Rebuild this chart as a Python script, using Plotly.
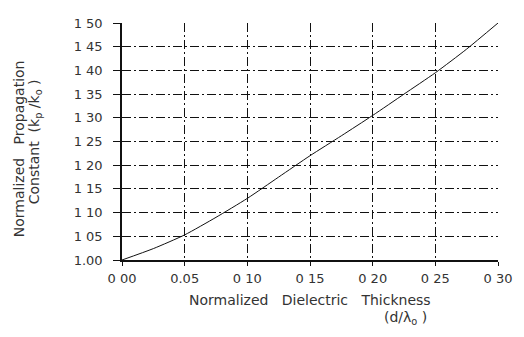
import plotly.graph_objects as go

# Data
thickness = [0.000, 0.025, 0.050, 0.075, 0.100, 0.125, 0.150, 0.175,
             0.200, 0.225, 0.250, 0.275, 0.300]
prop_const = [1.000, 1.024, 1.053, 1.090, 1.130, 1.175, 1.220, 1.262,
              1.305, 1.350, 1.395, 1.445, 1.500]

x_tick_vals = [0.00, 0.05, 0.10, 0.15, 0.20, 0.25, 0.30]
x_tick_text = ["0 00", "0.05", "0 10", "0 15", "0 20", "0 25", "0 30"]
y_tick_vals = [1.00, 1.05, 1.10, 1.15, 1.20, 1.25, 1.30, 1.35, 1.40, 1.45, 1.50]
y_tick_text = ["1.00", "1 05", "1 10", "1 15", "1 20", "1 25", "1 30",
               "1 35", "1 40", "1 45", "1 50"]

FONT = "DejaVu Sans"
INK = "#333333"
LINE = "#111111"
GRID_DASH = "9px,3px,2px,3px"

fig = go.Figure()
fig.add_trace(go.Scatter(x=thickness, y=prop_const, mode="lines",
                         line=dict(color=LINE, width=1, shape="spline",
                                   smoothing=0.6),
                         showlegend=False, hoverinfo="skip"))

axis_common = dict(showgrid=True, gridcolor=LINE, gridwidth=1,
                   griddash=GRID_DASH, showline=True, linecolor=LINE,
                   linewidth=1.5, zeroline=False, ticks="outside",
                   tickcolor=LINE,
                   tickfont=dict(size=13, family=FONT, color=INK))

# The page body adds an 8px offset, so the figure is sized to fit the window.
fig.update_layout(
    width=516, height=329,
    margin=dict(l=114, r=26, t=8, b=77),
    paper_bgcolor="white", plot_bgcolor="white",
    font=dict(family=FONT, size=13, color=INK),
    xaxis=dict(range=[0, 0.30], tickvals=x_tick_vals, ticktext=x_tick_text,
               ticklen=4, ticklabelstandoff=2, **axis_common),
    yaxis=dict(range=[1.00, 1.50], tickvals=y_tick_vals, ticktext=y_tick_text,
               ticklen=7, ticklabelstandoff=8, **axis_common),
)

title_font = dict(size=14, family=FONT, color=INK)

# Axis titles as annotations
fig.add_annotation(xref="paper", yref="paper", x=0.5, y=-0.168,
                   text="Normalized&nbsp;&nbsp; Dielectric&nbsp;&nbsp; Thickness",
                   showarrow=False, font=title_font,
                   xanchor="center", yanchor="middle")
fig.add_annotation(xref="paper", yref="paper", x=0.753, y=-0.245,
                   text="(d/λ<sub>o</sub> )",
                   showarrow=False, font=title_font,
                   xanchor="center", yanchor="middle")
fig.add_annotation(xref="paper", yref="paper", x=-0.275, y=0.47,
                   text="Normalized&nbsp;&nbsp; Propagation",
                   textangle=-90, showarrow=False, font=title_font,
                   xanchor="center", yanchor="middle")
fig.add_annotation(xref="paper", yref="paper", x=-0.232, y=0.5,
                   text="Constant&nbsp; (k<sub>p</sub> /k<sub>o</sub> )",
                   textangle=-90, showarrow=False, font=title_font,
                   xanchor="center", yanchor="middle")

fig.write_html("out.html")
